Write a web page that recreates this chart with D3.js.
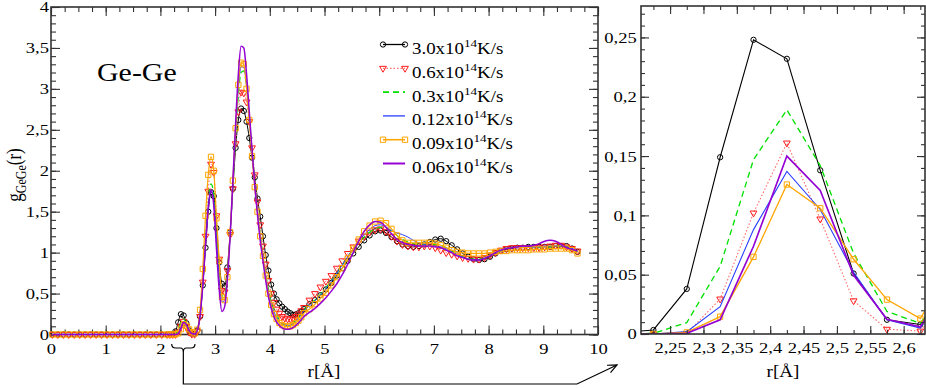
<!DOCTYPE html>
<html>
<head>
<meta charset="utf-8">
<script src="https://cdn.jsdelivr.net/npm/d3@7"></script>
<style>
  body { margin: 0; background: #fff; }
  svg { display: block; }
</style>
</head>
<body>
<svg id="chart" width="926" height="388"></svg>
<script>
// r in Angstrom (bin centres), shared by every series
const r = [
  0.025, 0.125, 0.225, 0.325, 0.425, 0.525, 0.625, 0.725, 0.825, 0.925, 1.025,
  1.125, 1.225, 1.325, 1.425, 1.525, 1.625, 1.725, 1.825, 1.925, 2.025, 2.125,
  2.175, 2.225, 2.275, 2.325, 2.375, 2.425, 2.475, 2.525, 2.575, 2.625,
  2.675, 2.725, 2.775, 2.825, 2.875, 2.925, 2.975, 3.025, 3.075, 3.125,
  3.175, 3.225, 3.275, 3.325, 3.375, 3.425, 3.475, 3.525, 3.575, 3.625,
  3.675, 3.725, 3.775, 3.825, 3.875, 3.925, 3.975, 4.025, 4.075, 4.125,
  4.175, 4.225, 4.275, 4.325, 4.375, 4.425, 4.475, 4.525, 4.575, 4.625,
  4.725, 4.825, 4.925, 5.025, 5.125, 5.225, 5.325, 5.425, 5.525, 5.625,
  5.725, 5.825, 5.925, 6.025, 6.125, 6.225, 6.325, 6.425, 6.525, 6.625,
  6.725, 6.825, 6.925, 7.025, 7.125, 7.225, 7.325, 7.425, 7.525, 7.625,
  7.725, 7.825, 7.925, 8.025, 8.125, 8.225, 8.325, 8.425, 8.525, 8.625,
  8.725, 8.825, 8.925, 9.025, 9.125, 9.225, 9.325, 9.425, 9.525, 9.625
];

// g_GeGe(r) for each cooling rate
const g30 = [
  0,0,0,0,0,0,0,0,0,0,0,0,0,0,0,0,0,0,0,0,0,0,
  0.001, 0.0034, 0.038, 0.149, 0.248, 0.232, 0.138, 0.051, 0.012, 0.008,
  0.05, 0.22, 0.60, 1.06, 1.50, 1.74, 1.69, 1.30, 0.88, 0.62,
  0.59, 0.82, 1.25, 1.78, 2.28, 2.62, 2.76, 2.73, 2.60, 2.40,
  2.16, 1.92, 1.66, 1.44, 1.20, 0.97, 0.78, 0.61, 0.50, 0.43,
  0.38, 0.34, 0.31, 0.28, 0.26, 0.24, 0.245, 0.26, 0.28, 0.31,
  0.37, 0.42, 0.48, 0.55, 0.63, 0.72, 0.81, 0.90, 0.99, 1.07,
  1.15, 1.21, 1.26, 1.27, 1.24, 1.19, 1.14, 1.10, 1.08, 1.07,
  1.08, 1.10, 1.13, 1.16, 1.17, 1.14, 1.09, 1.04, 0.99, 0.95,
  0.92, 0.91, 0.92, 0.95, 0.99, 1.02, 1.04, 1.05, 1.06, 1.06,
  1.07, 1.07, 1.07, 1.07, 1.07, 1.08, 1.08, 1.08, 1.05, 1.01
];
const g06 = [
  0,0,0,0,0,0,0,0,0,0,0,0,0,0,0,0,0,0,0,0,0,0,
  0, 0, 0.0005, 0.0295, 0.102, 0.161, 0.097, 0.028, 0.004, 0.0025,
  0.04, 0.22, 0.64, 1.20, 1.75, 2.08, 1.98, 1.45, 0.92, 0.54,
  0.52, 0.78, 1.22, 1.78, 2.33, 2.72, 2.96, 2.95, 2.84, 2.60,
  2.28, 1.95, 1.62, 1.34, 1.08, 0.86, 0.66, 0.50, 0.39, 0.31,
  0.26, 0.22, 0.20, 0.19, 0.19, 0.20, 0.22, 0.25, 0.29, 0.33,
  0.42, 0.50, 0.58, 0.65, 0.72, 0.81, 0.90, 0.99, 1.07, 1.14,
  1.20, 1.25, 1.28, 1.29, 1.26, 1.20, 1.14, 1.10, 1.08, 1.07,
  1.07, 1.08, 1.08, 1.06, 1.03, 1.00, 0.98, 0.96, 0.94, 0.93,
  0.92, 0.92, 0.94, 0.97, 1.00, 1.03, 1.05, 1.06, 1.06, 1.06,
  1.06, 1.06, 1.06, 1.07, 1.08, 1.09, 1.09, 1.07, 1.05, 1.02
];
const g03 = [
  0,0,0,0,0,0,0,0,0,0,0,0,0,0,0,0,0,0,0,0,0,0,
  0, 0.0005, 0.0096, 0.057, 0.147, 0.189, 0.142, 0.068, 0.019, 0.009,
  0.05, 0.25, 0.62, 1.12, 1.58, 1.84, 1.72, 1.25, 0.78, 0.47,
  0.48, 0.75, 1.22, 1.82, 2.42, 2.92, 3.20, 3.22, 3.02, 2.66,
  2.26, 1.86, 1.52, 1.22, 0.96, 0.74, 0.55, 0.41, 0.31, 0.24,
  0.18, 0.14, 0.12, 0.115, 0.12, 0.14, 0.17, 0.21, 0.25, 0.30,
  0.36, 0.42, 0.49, 0.57, 0.66, 0.75, 0.85, 0.95, 1.04, 1.12,
  1.19, 1.25, 1.29, 1.31, 1.30, 1.26, 1.21, 1.16, 1.13, 1.11,
  1.10, 1.10, 1.10, 1.10, 1.09, 1.06, 1.02, 0.98, 0.95, 0.93,
  0.92, 0.92, 0.93, 0.96, 0.99, 1.02, 1.05, 1.06, 1.07, 1.07,
  1.07, 1.07, 1.07, 1.07, 1.07, 1.08, 1.08, 1.07, 1.05, 1.01
];
const g012 = [
  0,0,0,0,0,0,0,0,0,0,0,0,0,0,0,0,0,0,0,0,0,0,
  0, 0, 0.002, 0.023, 0.088, 0.137, 0.105, 0.052, 0.012, 0.005,
  0.05, 0.24, 0.60, 1.10, 1.55, 1.77, 1.62, 1.15, 0.70, 0.40,
  0.42, 0.72, 1.22, 1.85, 2.48, 3.00, 3.27, 3.26, 3.05, 2.66,
  2.24, 1.84, 1.50, 1.20, 0.94, 0.72, 0.52, 0.38, 0.28, 0.21,
  0.16, 0.13, 0.115, 0.11, 0.115, 0.13, 0.16, 0.20, 0.24, 0.29,
  0.35, 0.41, 0.48, 0.56, 0.65, 0.75, 0.85, 0.95, 1.05, 1.14,
  1.22, 1.28, 1.33, 1.34, 1.31, 1.27, 1.24, 1.22, 1.19, 1.15,
  1.12, 1.10, 1.09, 1.08, 1.07, 1.05, 1.01, 0.97, 0.94, 0.92,
  0.91, 0.91, 0.93, 0.96, 1.00, 1.03, 1.05, 1.06, 1.06, 1.07,
  1.07, 1.07, 1.07, 1.08, 1.08, 1.08, 1.08, 1.07, 1.05, 1.02
];
const g009 = [
  0,0,0,0,0,0,0,0,0,0,0,0,0,0,0,0,0,0,0,0,0,0,
  0, 0, 0.0014, 0.0146, 0.065, 0.126, 0.106, 0.063, 0.029, 0.013,
  0.06, 0.30, 0.80, 1.45, 1.95, 2.17, 2.00, 1.42, 0.90, 0.46,
  0.42, 0.70, 1.25, 1.88, 2.52, 3.05, 3.32, 3.30, 3.00, 2.62,
  2.18, 1.80, 1.50, 1.20, 0.96, 0.72, 0.50, 0.36, 0.25, 0.19,
  0.14, 0.115, 0.10, 0.095, 0.10, 0.115, 0.14, 0.17, 0.21, 0.26,
  0.31, 0.37, 0.44, 0.51, 0.60, 0.70, 0.81, 0.93, 1.05, 1.16,
  1.26, 1.33, 1.38, 1.39, 1.36, 1.29, 1.21, 1.15, 1.12, 1.12,
  1.12, 1.12, 1.12, 1.11, 1.09, 1.06, 1.03, 1.01, 1.00, 0.99,
  0.99, 0.99, 0.99, 1.00, 1.01, 1.02, 1.02, 1.03, 1.03, 1.03,
  1.03, 1.04, 1.04, 1.04, 1.05, 1.05, 1.05, 1.05, 1.03, 0.99
];
const g006 = [
  0,0,0,0,0,0,0,0,0,0,0,0,0,0,0,0,0,0,0,0,0,0,
  0, 0, 0.0006, 0.012, 0.074, 0.150, 0.121, 0.0495, 0.0124, 0.006,
  0.05, 0.24, 0.60, 1.10, 1.55, 1.76, 1.58, 1.05, 0.55, 0.28,
  0.34, 0.68, 1.20, 1.88, 2.58, 3.18, 3.52, 3.50, 3.18, 2.72,
  2.26, 1.82, 1.46, 1.15, 0.90, 0.66, 0.46, 0.32, 0.22, 0.15,
  0.11, 0.08, 0.066, 0.063, 0.07, 0.085, 0.11, 0.14, 0.18, 0.22,
  0.27, 0.32, 0.38, 0.45, 0.53, 0.62, 0.73, 0.86, 1.00, 1.14,
  1.26, 1.34, 1.38, 1.37, 1.31, 1.23, 1.16, 1.12, 1.10, 1.09,
  1.08, 1.08, 1.08, 1.07, 1.06, 1.03, 1.00, 0.96, 0.94, 0.92,
  0.91, 0.91, 0.93, 0.96, 1.00, 1.03, 1.05, 1.06, 1.07, 1.08,
  1.08, 1.09, 1.11, 1.14, 1.15, 1.14, 1.10, 1.06, 1.04, 1.02
];

const rates = ["3.0", "0.6", "0.3", "0.12", "0.09", "0.06"];
const seriesVals = [g30, g06, g03, g012, g009, g006];

// zoom window of the right panel
const zoomR = [2.2064, 2.632];
const zoomG = [0, 0.2765];

const styles = [
  {stroke: "#000", width: 1, dash: null, marker: d3.symbolCircle, mcolor: "#000", msize: 22},
  {stroke: "#ff6a6a", width: 1, dash: "1.5,2", marker: d3.symbolTriangle, mcolor: "#ff1a1a", msize: 20, rot: true},
  {stroke: "#00e000", width: 1.2, dash: "6,4"},
  {stroke: "#2a40ff", width: 1},
  {stroke: "#ffa500", width: 1.2, marker: d3.symbolSquare, mcolor: "#ffa500", msize: 28},
  {stroke: "#9400d3", width: 1.5}
];

// pick an installed Times-like face; generic "serif" may not resolve to one
const measure = (() => {
  const c = document.createElement("canvas").getContext("2d");
  return (font, s) => { c.font = font; return c.measureText(s).width; };
})();
const probe = "abcdefghijklmnopqrstuvwxyzGWM0123456789";
const FACE = ["Liberation Serif", "Tinos", "Nimbus Roman", "Times New Roman", "DejaVu Serif", "Noto Serif", "FreeSerif"]
  .find(n => measure(`40px "${n}", monospace`, probe) !== measure("40px monospace", probe) &&
             measure(`40px "${n}", sans-serif`, probe) !== measure("40px sans-serif", probe)) || "serif";
const FONT = FACE === "serif" ? "serif" : `"${FACE}", serif`;
// the original's glyphs are stretched sideways: "3.0x10" at 15.8px spans ~52px
const SX = 52 / measure(`15.8px ${FONT}`, "3.0x10");

const svg = d3.select("#chart").attr("font-family", FONT);

const xL = d3.scaleLinear().domain([0, 10]).range([51, 598]);
const yL = d3.scaleLinear().domain([0, 4]).range([334.5, 7]);
const xR = d3.scaleLinear().domain(zoomR).range([641, 925]);
const yR = d3.scaleLinear().domain(zoomG).range([334, 6]);

const fmt = d => String(+d.toFixed(3)).replace(".", ",");

function axes(x, y, o) {
  const [xa, xb] = x.range(), [ya, yb] = y.range();
  const ax = svg.append("g");
  const add = (axis, tr) => ax.append("g").attr("transform", tr).call(axis)
    .call(g => g.select(".domain").remove());
  add(d3.axisBottom(x).tickValues(o.xMin).tickSize(-o.small).tickFormat(""), `translate(0,${ya})`);
  add(d3.axisTop(x).tickValues(o.xMin).tickSize(-o.small).tickFormat(""), `translate(0,${yb})`);
  add(d3.axisLeft(y).tickValues(o.yMin).tickSize(-o.small).tickFormat(""), `translate(${xa},0)`);
  add(d3.axisRight(y).tickValues(o.yMin).tickSize(-o.small).tickFormat(""), `translate(${xb},0)`);
  add(d3.axisBottom(x).tickValues(o.xMaj).tickSize(-o.big).tickPadding(8.5).tickFormat(fmt), `translate(0,${ya})`);
  add(d3.axisTop(x).tickValues(o.xMaj).tickSize(-o.big).tickFormat(""), `translate(0,${yb})`);
  add(d3.axisLeft(y).tickValues(o.yMaj).tickSize(-o.big).tickPadding(o.padY).tickFormat(fmt), `translate(${xa},0)`);
  add(d3.axisRight(y).tickValues(o.yMaj).tickSize(-o.big).tickFormat(""), `translate(${xb},0)`);
  ax.selectAll("g").attr("font-family", FONT);
  ax.selectAll("line").attr("stroke", "#333").attr("stroke-width", 1.1);
  ax.selectAll("text")
    .attr("font-family", FONT)
    .attr("font-size", 15.5).attr("fill", "#000")
    .attr("transform", `scale(${SX},1)`);
  svg.append("rect").attr("x", xa).attr("y", yb).attr("width", xb - xa).attr("height", ya - yb)
    .attr("fill", "none").attr("stroke", "#333").attr("stroke-width", 1.6);
}

function drawSeries(x, y, keep, curve, g, wScale) {
  seriesVals.forEach((vals, i) => {
    const st = styles[i];
    const data = r.map((rv, j) => [rv, vals[j]]).filter(keep);
    g.append("path").datum(data)
      .attr("d", d3.line().x(d => x(d[0])).y(d => y(d[1])).curve(curve))
      .attr("fill", "none").attr("stroke", st.stroke)
      .attr("stroke-width", st.width * wScale)
      .attr("stroke-dasharray", st.dash);
    if (st.marker) {
      g.selectAll(null).data(data).join("path")
        .attr("transform", d => `translate(${x(d[0])},${y(d[1])})` + (st.rot ? " rotate(180)" : ""))
        .attr("d", d3.symbol(st.marker, st.msize)())
        .attr("fill", "none").attr("stroke", st.mcolor).attr("stroke-width", 1);
    }
  });
}

// left panel
axes(xL, yL, {
  xMaj: d3.range(0, 10.01, 1), xMin: d3.range(0, 10.01, 0.25),
  yMaj: d3.range(0, 4.01, 0.5), yMin: d3.range(0, 4.01, 0.1),
  big: 9, small: 5, padY: 1.7
});
drawSeries(xL, yL, () => true, d3.curveMonotoneX, svg.append("g"), 1);

// right panel (zoom on the first small peak)
svg.append("clipPath").attr("id", "clipR").append("rect")
  .attr("x", 641).attr("y", 6).attr("width", 284).attr("height", 328);
const gR = svg.append("g").attr("clip-path", "url(#clipR)");
drawSeries(xR, yR, d => d[0] > 2.1 && d[0] < 2.7, d3.curveLinear, gR, 1.1);
axes(xR, yR, {
  xMaj: d3.range(2.25, 2.601, 0.05), xMin: d3.range(2.225, 2.631, 0.025),
  yMaj: d3.range(0, 0.2501, 0.05), yMin: d3.range(0, 0.2701, 0.01),
  big: 8, small: 4, padY: 3.6
});

// axis titles
function stretched(x, y, size, anchor) {
  return svg.append("text").attr("transform", `translate(${x},${y}) scale(${SX},1)`)
    .attr("font-size", size).attr("text-anchor", anchor || "start");
}
stretched(xL(5) - 0.5, 377, 16, "middle").text("r[Å]");
stretched((641 + 925) / 2, 377, 16, "middle").text("r[Å]");
stretched(97, 81, 25).text("Ge-Ge");

const yt = svg.append("text").attr("transform", `translate(21,175) scale(${SX},1) rotate(-90)`)
  .attr("font-size", 17).attr("text-anchor", "middle");
yt.append("tspan").text("g");
yt.append("tspan").attr("font-size", 12).attr("dy", 4).text("GeGe");
yt.append("tspan").attr("dy", -4).text("(r)");

// legend
const lg = svg.append("g");
rates.forEach((rt, i) => {
  const st = styles[i];
  const yb = 54 + i * 23.8, yl = yb - 9.5;
  lg.append("line").attr("x1", 383).attr("x2", 405).attr("y1", yl).attr("y2", yl)
    .attr("stroke", st.stroke).attr("stroke-width", st.width * 1.3).attr("stroke-dasharray", st.dash);
  if (st.marker) {
    [383, 405].forEach(xx => lg.append("path")
      .attr("transform", `translate(${xx},${yl})` + (st.rot ? " rotate(180)" : ""))
      .attr("d", d3.symbol(st.marker, st.msize)())
      .attr("fill", "none").attr("stroke", st.mcolor));
  }
  const t = lg.append("text").attr("transform", `translate(412,${yb}) scale(${SX},1)`).attr("font-size", 15.8);
  t.append("tspan").text(rt + "x10");
  t.append("tspan").attr("font-size", 11).attr("dy", -7).text("14");
  t.append("tspan").attr("dy", 7).text("K/s");
});

// brace under the zoomed r-range and arrow to the right panel
const b0 = xL(zoomR[0]), b1 = xL(zoomR[1]), bc = (b0 + b1) / 2;
const ann = svg.append("g").attr("fill", "none").attr("stroke", "#000").attr("stroke-width", 1.2);
ann.append("path").attr("d",
  `M${b0},344 Q${b0},348 ${b0 + 4},348 L${bc - 3},348 Q${bc},348 ${bc},352 ` +
  `Q${bc},348 ${bc + 3},348 L${b1 - 4},348 Q${b1},348 ${b1},344`);
const tip = [617, 365], knee = [577, 384];
ann.append("path").attr("d", `M${bc},352 V${knee[1]} H${knee[0]} L${tip[0]},${tip[1]}`);
const ang = Math.atan2(tip[1] - knee[1], tip[0] - knee[0]);
const head = [ang + Math.PI - 0.42, ang + Math.PI + 0.42].map(a => [tip[0] + 10 * Math.cos(a), tip[1] + 10 * Math.sin(a)]);
ann.append("path").attr("d", `M${head[0][0]},${head[0][1]} L${tip[0]},${tip[1]} L${head[1][0]},${head[1][1]}`);
</script>
</body>
</html>
